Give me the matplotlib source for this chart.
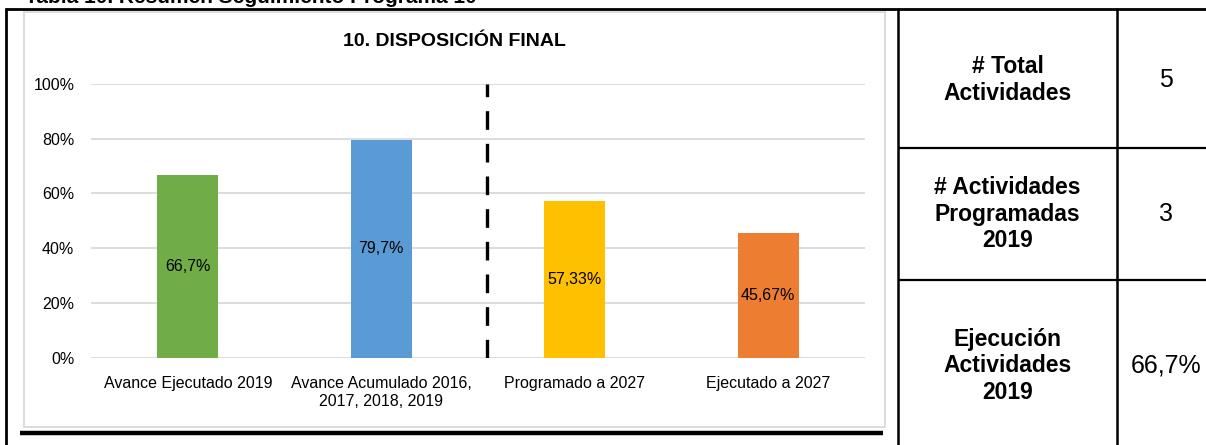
import matplotlib
matplotlib.use("Agg")
import matplotlib.pyplot as plt
from matplotlib.lines import Line2D
from matplotlib.patches import Rectangle

# ---- data ----
categories = ["Avance Ejecutado 2019", "Avance Acumulado 2016,\n2017, 2018, 2019",
              "Programado a 2027", "Ejecutado a 2027"]
values = [0.667, 0.797, 0.5733, 0.4567]
value_labels = ["66,7%", "79,7%", "57,33%", "45,67%"]
bar_colors = ["#70AD47", "#5B9BD5", "#FFC000", "#ED7D31"]
yticks = [0, 0.2, 0.4, 0.6, 0.8, 1.0]
ytick_labels = ["0%", "20%", "40%", "60%", "80%", "100%"]
chart_title = "10. DISPOSICIÓN FINAL"
caption = "Tabla 10. Resumen Seguimiento Programa 10"
table_labels = ["# Total\nActividades", "# Actividades\nProgramadas\n2019",
                "Ejecución\nActividades\n2019"]
table_values = ["5", "3", "66,7%"]

W, H = 1206, 445
fig = plt.figure(figsize=(W / 100, H / 100), dpi=100)
fig.patch.set_facecolor("white")

SANS = ["Liberation Sans", "DejaVu Sans"]


def fx(x):
    return x / W


def fy(y):
    return 1 - y / H


def hline(x0, x1, y, lw, color="black"):
    fig.add_artist(Line2D([fx(x0), fx(x1)], [fy(y), fy(y)], lw=lw, color=color,
                          transform=fig.transFigure, solid_capstyle="butt"))


def vline(x, y0, y1, lw, color="black"):
    fig.add_artist(Line2D([fx(x), fx(x)], [fy(y0), fy(y1)], lw=lw, color=color,
                          transform=fig.transFigure, solid_capstyle="butt"))


# chart inner frame (light gray)
fig.add_artist(Rectangle((fx(24), fy(427)), fx(885) - fx(24), fy(12) - fy(427),
                         transform=fig.transFigure, fill=False,
                         edgecolor="#D9D9D9", lw=1.3))

# outer table lines
hline(5, W, 8.5, 2.0)
vline(6, 8, H, 2.0)
vline(898, 8, H, 1.8)
vline(1117, 8, H, 1.8)
hline(898, W, 148, 1.6)
hline(898, W, 280, 1.6)
hline(20, 883, 432.5, 3.2)

# caption (cut off at the top, as in the source document)
fig.text(fx(25), fy(3), caption, fontsize=15, fontweight="bold",
         family=SANS, ha="left", va="baseline")

# ---- axes ----
left, right, top, bottom = 91, 865, 84, 357.7
ax = fig.add_axes([fx(left), fy(bottom), fx(right) - fx(left), fy(top) - fy(bottom)])
ax.set_facecolor("none")
x = list(range(len(categories)))
ax.bar(x, values, width=0.315, color=bar_colors, zorder=2)
ax.set_xlim(-0.5, len(categories) - 0.5)
ax.set_ylim(0, 1.0)
ax.set_yticks(yticks)
ax.set_yticklabels(ytick_labels, family=SANS, fontsize=11.5)
ax.set_xticks(x)
ax.set_xticklabels(categories, family=SANS, fontsize=11.5, linespacing=1.3)
ax.tick_params(axis="both", length=0, colors="#000000")
ax.tick_params(axis="y", pad=12)
ax.tick_params(axis="x", pad=13)
ax.grid(axis="y", color="#D9D9D9", lw=1.3, zorder=0)
ax.set_axisbelow(True)
for s in ax.spines.values():
    s.set_visible(False)

for xi, v, lab in zip(x, values, value_labels):
    ax.text(xi, v / 2, lab, ha="center", va="center", family=SANS,
            fontsize=11.5, color="black", zorder=3)

ax.axvline(1.547, ymin=0, ymax=1.0, color="black", lw=2.4,
           dashes=(5.6, 4.2), dash_capstyle="butt", zorder=4)

fig.text(fx(454), fy(42), chart_title, ha="center", va="center",
         family=SANS, fontweight="bold", fontsize=14)

# ---- table ----
row_centers = [80, 214, 366]
for yc, lab, val in zip(row_centers, table_labels, table_values):
    fig.text(fx(1007.5), fy(yc), lab, ha="center", va="center", family=SANS,
             fontweight="bold", fontsize=16.5, linespacing=1.2)
    fig.text(fx(1166), fy(yc), val, ha="center", va="center", family=SANS,
             fontsize=18)

fig.savefig("out.png", dpi=100, facecolor="white")
